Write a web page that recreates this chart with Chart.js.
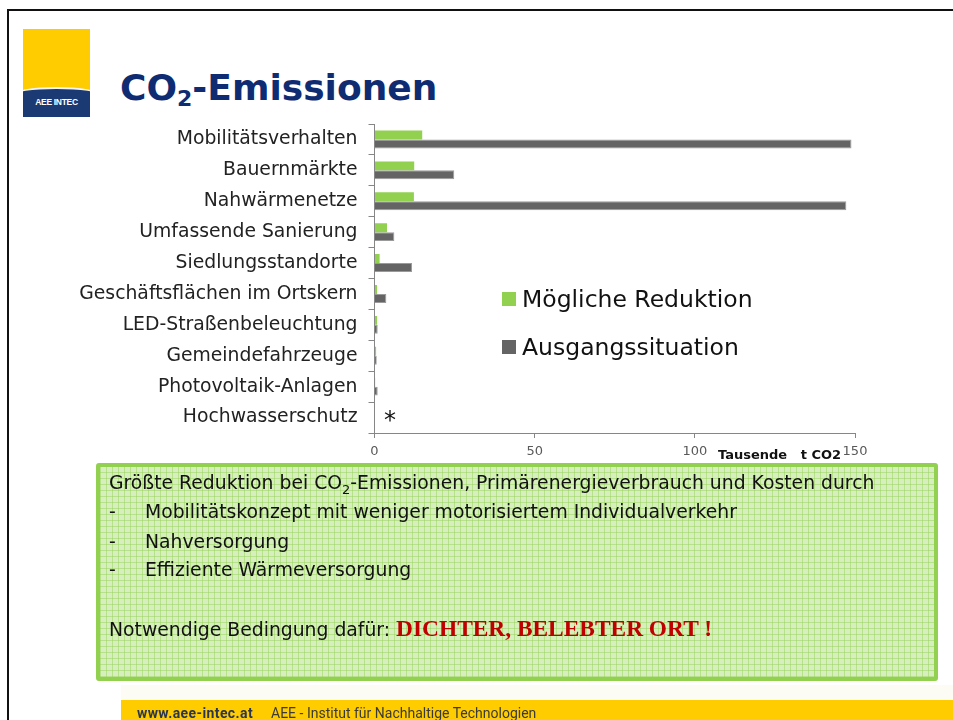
<!DOCTYPE html>
<html>
<head>
<meta charset="utf-8">
<script src="https://cdn.jsdelivr.net/npm/chart.js@4.4.0/dist/chart.umd.min.js"></script>
<style>
    body { margin: 0; width: 953px; height: 720px; overflow: hidden; background: #fff; position: relative; font-family: "DejaVu Sans", Verdana, sans-serif; }
    .frame { position: absolute; left: 7px; top: 9px; width: 980px; height: 760px; border: 2px solid #111; }
    .logo { position: absolute; left: 23px; top: 29px; width: 67px; height: 88px; background: #ffcc00; overflow: hidden; }
    .logo .band { position: absolute; left: -10px; top: 58px; width: 87px; height: 50px; background: #1b3a73; border-top: 2px solid #f4f4f4; border-radius: 50% 50% 0 0 / 8px 8px 0 0; }
    .logo span { position: absolute; left: 0; width: 67px; top: 68px; text-align: center; color: #fff; font: bold 8.5px "Liberation Sans", Arial, sans-serif; letter-spacing: -0.3px; }
    h1 { position: absolute; left: 120px; top: 70px; margin: 0; font: bold 36px "DejaVu Sans", sans-serif; color: #0f2c72; line-height: 1; }
    h1 sub { font-size: 22px; vertical-align: -6px; line-height: 0; }
    #wrap { position: absolute; left: 0; top: 110px; }
    .legend { position: absolute; left: 502px; font-size: 23.5px; color: #111; white-space: nowrap; }
    .legend i { display: inline-block; width: 14px; height: 14px; margin-right: 6px; vertical-align: 1px; }
    .star { position: absolute; left: 384px; top: 406px; font-size: 24px; color: #111; }
    .xtitle { position: absolute; left: 718px; top: 447px; font: bold 13px "DejaVu Sans", sans-serif; color: #111; white-space: pre; }
    .box { position: absolute; left: 96px; top: 463px; width: 834px; height: 210px; border: 4px solid #92d050; border-radius: 3px;
        background-color: #d7eebf;
        background-image: repeating-linear-gradient(0deg, rgba(146,208,80,0.45) 0 1px, transparent 1px 6px),
                          repeating-linear-gradient(90deg, rgba(146,208,80,0.45) 0 1px, transparent 1px 6px);
        font-size: 18.8px; color: #111; }
    .box div { position: absolute; left: 9px; white-space: nowrap; line-height: 22px; }
    .box b.dash { font-weight: normal; }
    .box .item { left: 45px; }
    .red { font: bold 23.4px "Liberation Serif", "Times New Roman", serif; color: #c00000; line-height: 22px; }
    .pale { position: absolute; left: 121px; top: 685px; right: 0; height: 15px; background: #fcfcf4; }
    .footer { position: absolute; left: 121px; top: 700px; right: 0; height: 20px; background: #ffcc00; overflow: hidden; }
    .footer span { position: absolute; left: 16px; top: 6px; font: 14px Roboto, "Liberation Sans", sans-serif; line-height: 15px; color: #3a3a3a; white-space: pre; }
    .footer b { color: #2a3550; letter-spacing: 0.4px; margin-right: 18px; }
</style>
</head>
<body>
<div class="frame"></div>
<div class="logo"><div class="band"></div><span>AEE INTEC</span></div>
<h1>CO<sub>2</sub>-Emissionen</h1>

<div id="wrap"><canvas id="chart" width="953" height="360"></canvas></div>
<div id="legend"></div>
<div class="star">*</div>
<div class="xtitle">Tausende   t CO2</div>

<div class="box">
    <div style="top:5px">Größte Reduktion bei CO<sub style="font-size:13px;line-height:0">2</sub>-Emissionen, Primärenergieverbrauch und Kosten durch</div>
    <div style="top:34px"><b class="dash">-</b></div><div class="item" style="top:34px">Mobilitätskonzept mit weniger motorisiertem Individualverkehr</div>
    <div style="top:64px"><b class="dash">-</b></div><div class="item" style="top:64px">Nahversorgung</div>
    <div style="top:92px"><b class="dash">-</b></div><div class="item" style="top:92px">Effiziente Wärmeversorgung</div>
    <div style="top:150px">Notwendige Bedingung dafür: <span class="red">DICHTER, BELEBTER ORT !</span></div>
</div>

<div class="pale"></div>
<div class="footer"><span><b>www.aee-intec.at</b>AEE - Institut für Nachhaltige Technologien</span></div>

<script>
    // Kategorien und Werte (Tausende t CO2)
    const categories = ['Mobilitätsverhalten', 'Bauernmärkte', 'Nahwärmenetze', 'Umfassende Sanierung', 'Siedlungsstandorte',
        'Geschäftsflächen im Ortskern', 'LED-Straßenbeleuchtung', 'Gemeindefahrzeuge', 'Photovoltaik-Anlagen', 'Hochwasserschutz'];
    const reduktion = [14.9, 12.4, 12.3, 3.9, 1.6, 0.8, 0.8, 0.5, 0.2, 0];
    const ausgang = [148.9, 24.9, 147.3, 6.2, 11.7, 3.7, 1.0, 0.7, 1.0, 0];
    const seriesNames = ['Mögliche Reduktion', 'Ausgangssituation'];
    const seriesColors = ['#92d050', '#646464'];
    const xTicks = [0, 50, 100, 150];

    // legend (html, inside plot)
    const legendTops = [285, 333];
    document.getElementById('legend').innerHTML = seriesNames.map(function (name, i) {
        return '<div class="legend" style="top:' + legendTops[i] + 'px"><i style="background:' + seriesColors[i] + '"></i>' + name + '</div>';
    }).join('');

    const ctx = document.getElementById('chart').getContext('2d');
    const chart = new Chart(ctx, {
        type: 'bar',
        data: {
            labels: categories,
            datasets: [{
                label: seriesNames[0],
                data: reduktion,
                backgroundColor: seriesColors[0],
                borderWidth: 0,
                categoryPercentage: 0.58,
                barPercentage: 1
            }, {
                label: seriesNames[1],
                data: ausgang,
                backgroundColor: seriesColors[1],
                borderColor: '#9a9a9a',
                borderWidth: 1,
                categoryPercentage: 0.58,
                barPercentage: 1
            }]
        },
        options: {
            indexAxis: 'y',
            responsive: false,
            animation: false,
            devicePixelRatio: 1,
            layout: { padding: { top: 14, right: 98, left: 0, bottom: 0 } },
            plugins: { legend: { display: false }, tooltip: { enabled: false } },
            scales: {
                x: {
                    min: xTicks[0],
                    max: xTicks[xTicks.length - 1],
                    afterBuildTicks: function (scale) {
                        scale.ticks = xTicks.map(v => ({ value: v }));
                    },
                    afterFit: function (scale) { scale.height = 37; },
                    grid: { drawOnChartArea: false, tickLength: 5, color: '#868686' },
                    border: { color: '#868686' },
                    ticks: { color: '#595959', padding: 6, font: { family: 'DejaVu Sans', size: 13 } }
                },
                y: {
                    afterFit: function (scale) {
                        scale.width = 374.5;
                        scale.paddingTop = 0;
                        scale.paddingBottom = 0;
                    },
                    grid: { drawOnChartArea: false, offset: true, tickLength: 6, color: '#868686' },
                    border: { color: '#868686' },
                    ticks: { color: '#222', padding: 11, font: { family: 'DejaVu Sans', size: 18.8 } }
                }
            }
        }
    });
</script>
</body>
</html>
